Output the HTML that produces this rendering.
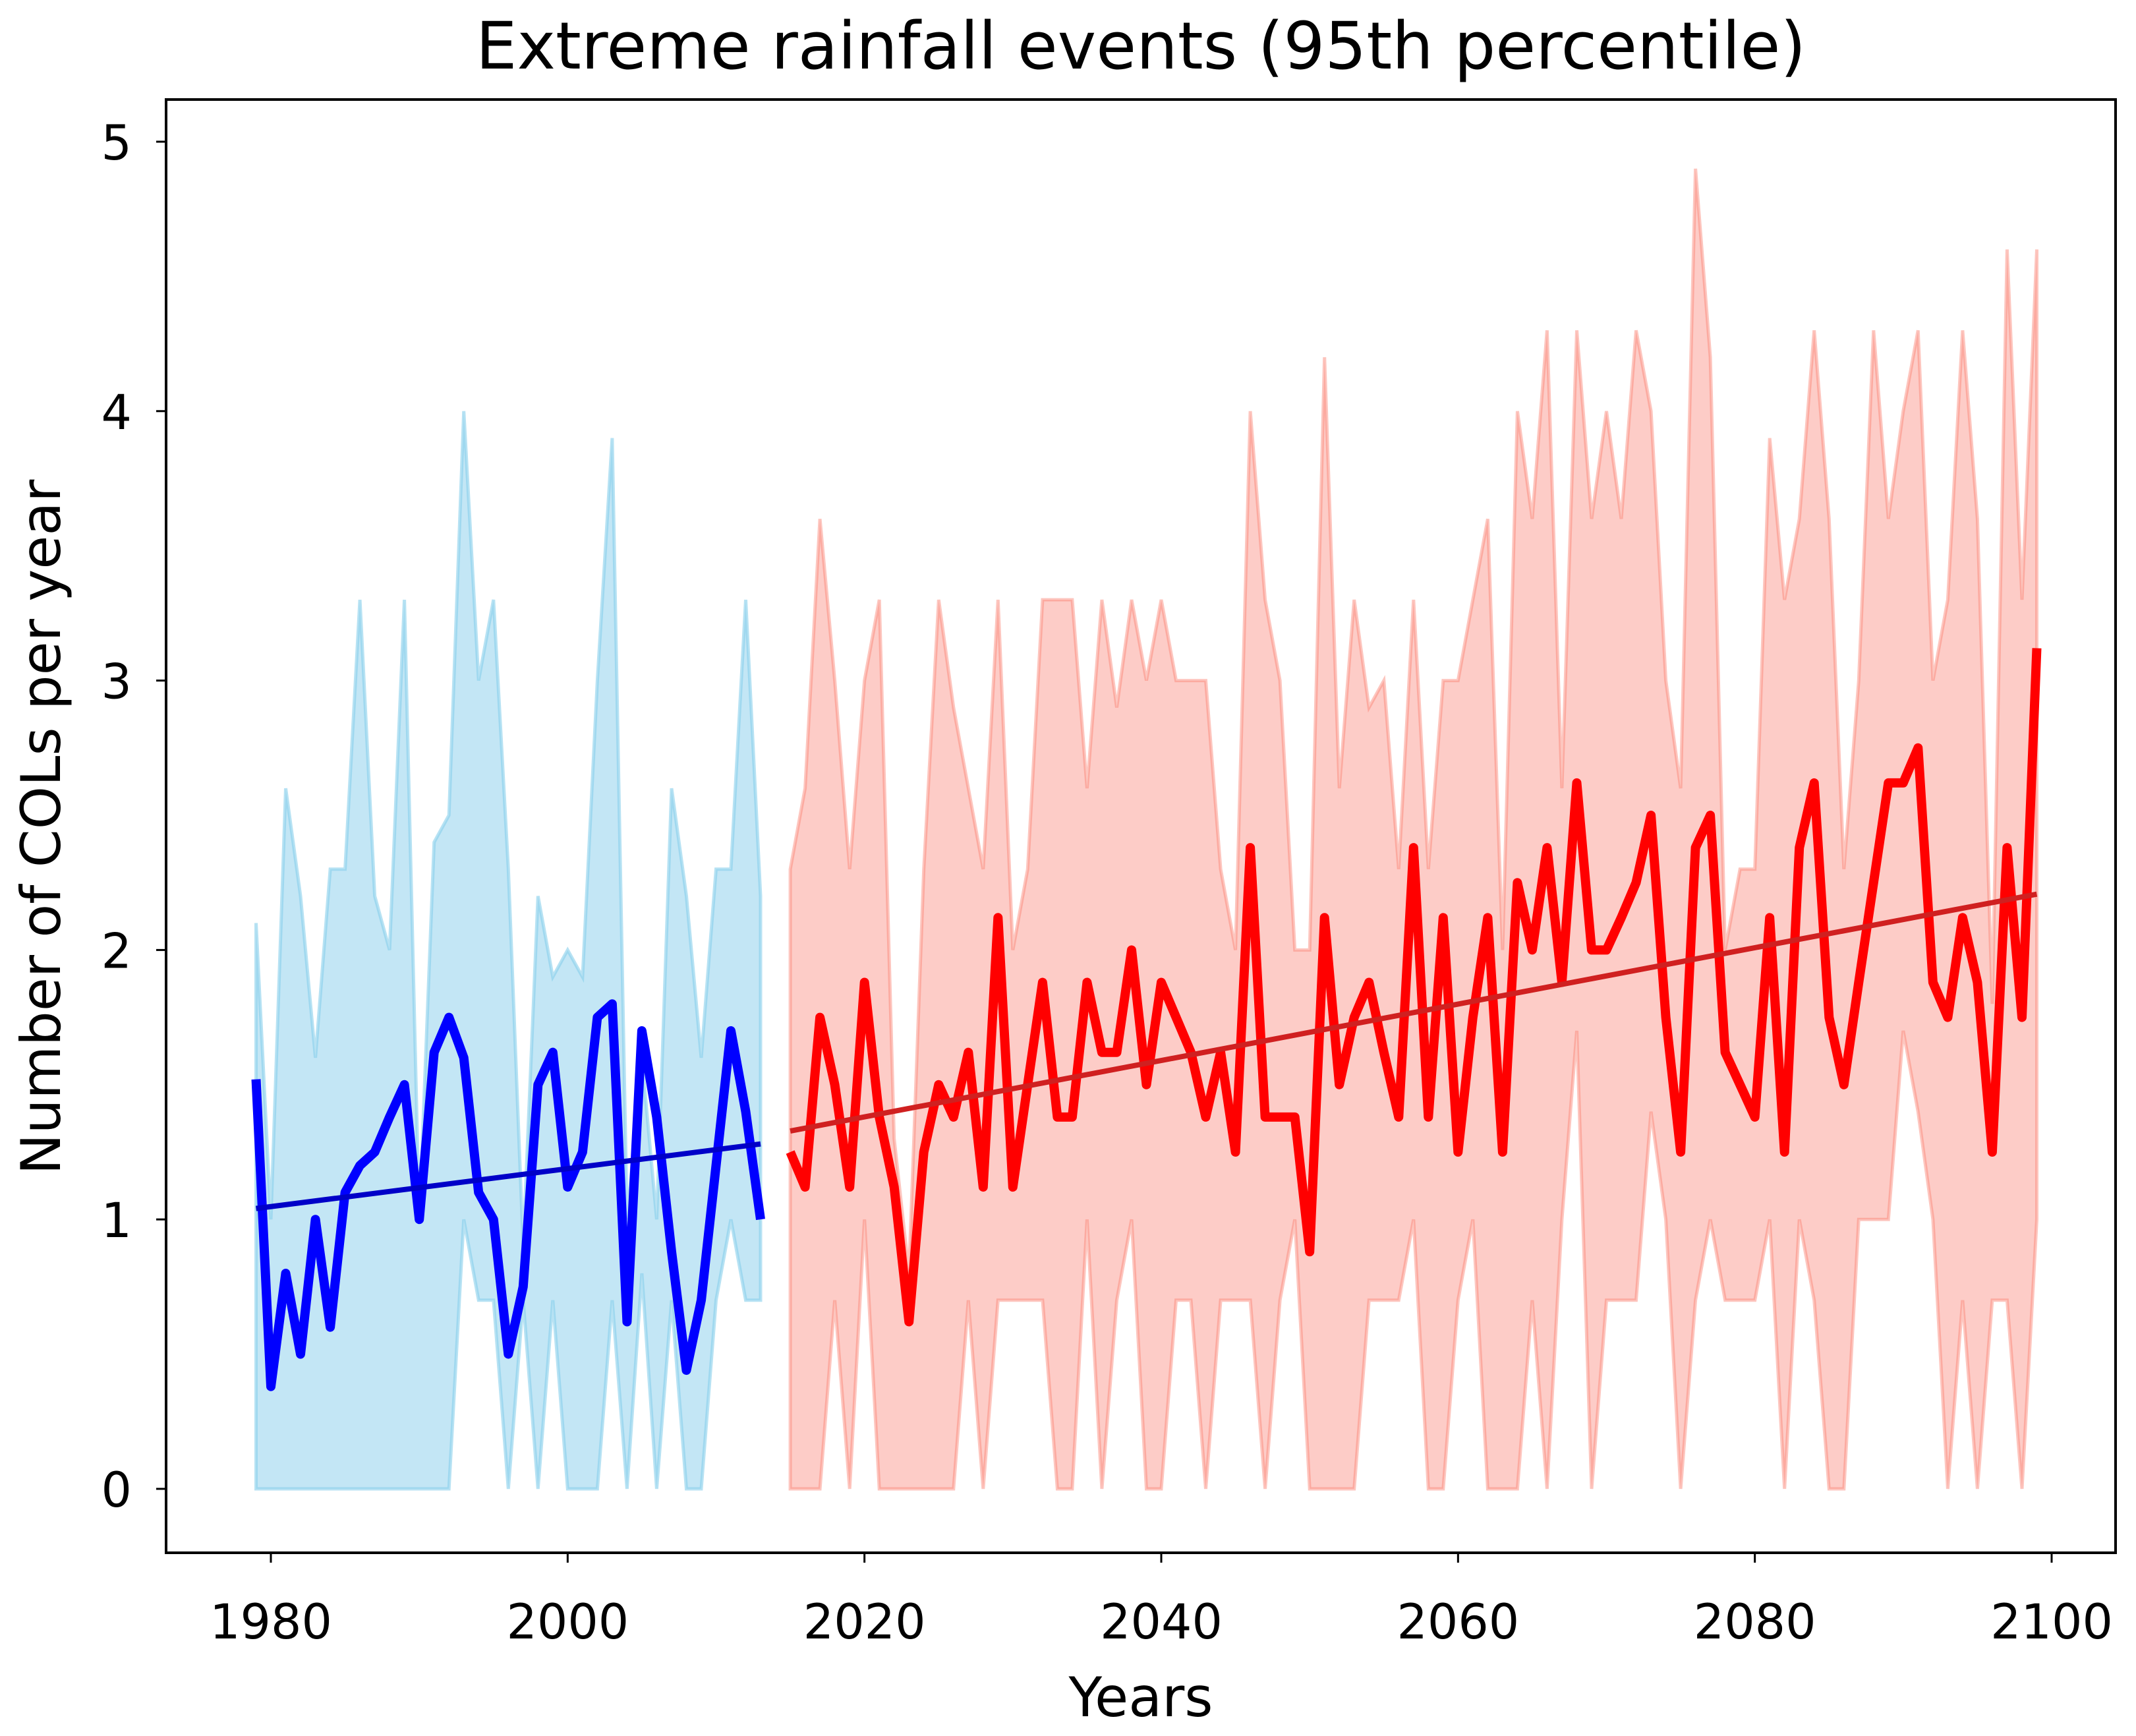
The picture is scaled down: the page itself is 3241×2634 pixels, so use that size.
<!DOCTYPE html>
<html><head><meta charset="utf-8">
<style>
html,body{margin:0;padding:0;background:#fff;}
svg{display:block;font-family:"DejaVu Sans","Liberation Sans",sans-serif;}
</style></head>
<body>
<svg id="chart" width="3241" height="2634" viewBox="0 0 3241 2634" xmlns="http://www.w3.org/2000/svg">
<rect x="0" y="0" width="3241" height="2634" fill="#fff"/>
<g id="plot"></g>
<rect x="252" y="151" width="2958" height="2205" fill="none" stroke="#000" stroke-width="4"/>
<g id="axes"></g>
<text x="1731" y="104" text-anchor="middle" font-size="99" fill="#000">Extreme rainfall events (95th percentile)</text>
<text x="1731" y="2604" text-anchor="middle" font-size="83" fill="#000">Years</text>
<text transform="translate(91,1255) rotate(-90)" text-anchor="middle" font-size="83" fill="#000">Number of COLs per year</text>
</svg>
<script>
const histStart = 1979;
const histMean = [1.52,0.38,0.8,0.5,1.0,0.6,1.1,1.2,1.25,1.38,1.5,1.0,1.62,1.75,1.6,1.1,1.0,0.5,0.75,1.5,1.62,1.12,1.25,1.75,1.8,0.62,1.7,1.38,0.88,0.44,0.7,1.2,1.7,1.4,1.0];
const histUpper = [2.1,1.0,2.6,2.2,1.6,2.3,2.3,3.3,2.2,2.0,3.3,1.0,2.4,2.5,4.0,3.0,3.3,2.3,0.9,2.2,1.9,2.0,1.9,3.0,3.9,1.0,1.6,1.0,2.6,2.2,1.6,2.3,2.3,3.3,2.2];
const histLower = [0,0,0,0,0,0,0,0,0,0,0,0,0,0,1.0,0.7,0.7,0,0.7,0,0.7,0,0,0,0.7,0,0.8,0,0.7,0,0,0.7,1.0,0.7,0.7];
const projStart = 2015;
const projMean = [1.25,1.12,1.75,1.5,1.12,1.88,1.38,1.12,0.62,1.25,1.5,1.38,1.62,1.12,2.12,1.12,1.5,1.88,1.38,1.38,1.88,1.62,1.62,2.0,1.5,1.88,1.75,1.62,1.38,1.62,1.25,2.38,1.38,1.38,1.38,0.88,2.12,1.5,1.75,1.88,1.62,1.38,2.38,1.38,2.12,1.25,1.75,2.12,1.25,2.25,2.0,2.38,1.88,2.62,2.0,2.0,2.12,2.25,2.5,1.75,1.25,2.38,2.5,1.62,1.5,1.38,2.12,1.25,2.38,2.62,1.75,1.5,1.88,2.25,2.62,2.62,2.75,1.88,1.75,2.12,1.88,1.25,2.38,1.75,3.12];
const projUpper = [2.3,2.6,3.6,3.0,2.3,3.0,3.3,1.3,0.8,2.3,3.3,2.9,2.6,2.3,3.3,2.0,2.3,3.3,3.3,3.3,2.6,3.3,2.9,3.3,3.0,3.3,3.0,3.0,3.0,2.3,2.0,4.0,3.3,3.0,2.0,2.0,4.2,2.6,3.3,2.9,3.0,2.3,3.3,2.3,3.0,3.0,3.3,3.6,2.0,4.0,3.6,4.3,2.6,4.3,3.6,4.0,3.6,4.3,4.0,3.0,2.6,4.9,4.2,2.0,2.3,2.3,3.9,3.3,3.6,4.3,3.6,2.3,3.0,4.3,3.6,4.0,4.3,3.0,3.3,4.3,3.6,1.8,4.6,3.3,4.6];
const projLower = [0,0,0,0.7,0,1.0,0,0,0,0,0,0,0.7,0,0.7,0.7,0.7,0.7,0,0,1.0,0,0.7,1.0,0,0,0.7,0.7,0,0.7,0.7,0.7,0,0.7,1.0,0,0,0,0,0.7,0.7,0.7,1.0,0,0,0.7,1.0,0,0,0,0.7,0,1.0,1.7,0,0.7,0.7,0.7,1.4,1.0,0,0.7,1.0,0.7,0.7,0.7,1.0,0,1.0,0.7,0,0,1.0,1.0,1.0,1.7,1.4,1.0,0,0.7,0,0.7,0.7,0,1.0];
const xTicks = [1980,2000,2020,2040,2060,2080,2100];
const yTicks = [0,1,2,3,4,5];

const NS = "http://www.w3.org/2000/svg";
function xs(yr){ return 411 + (yr-1980)*(3113-411)/120; }
function ys(v){ return 2259 - v*(2259-215)/5; }
const plot = document.getElementById('plot');
const axes = document.getElementById('axes');
function mk(tag, attrs, parent){ const e=document.createElementNS(NS,tag); for(const k in attrs) e.setAttribute(k,attrs[k]); parent.appendChild(e); return e; }

function band(start, up, lo, fill, stroke, name){
  let d='';
  up.forEach((v,i)=>{ d += (i?'L':'M')+xs(start+i).toFixed(1)+','+ys(v).toFixed(1); });
  for(let i=lo.length-1;i>=0;i--){ d += 'L'+xs(start+i).toFixed(1)+','+ys(lo[i]).toFixed(1); }
  d+='Z';
  const p = mk('path',{d:d,fill:fill,stroke:stroke,'stroke-width':5,'stroke-linejoin':'miter'},plot);
  
  
}
function line(start, vals, color, w, name){
  const pts = vals.map((v,i)=>xs(start+i).toFixed(1)+','+ys(v).toFixed(1)).join(' ');
  const p = mk('polyline',{points:pts,fill:'none',stroke:color,'stroke-width':w,'stroke-linejoin':'round'},plot);
  
  
}
function trend(start, vals, color, w, name){
  const n=vals.length; let sx=0,sy=0,sxx=0,sxy=0;
  vals.forEach((v,i)=>{ sx+=i; sy+=v; sxx+=i*i; sxy+=i*v; });
  const b=(n*sxy-sx*sy)/(n*sxx-sx*sx), a=(sy-b*sx)/n;
  const p = mk('line',{x1:xs(start),y1:ys(a),x2:xs(start+n-1),y2:ys(a+b*(n-1)),stroke:color,'stroke-width':w},plot);
  
  
}
band(histStart, histUpper, histLower, 'rgba(135,206,235,0.5)', 'rgba(135,206,235,0.6)', 'historical-range-band');
band(projStart, projUpper, projLower, 'rgba(250,128,114,0.4)', 'rgba(250,128,114,0.45)', 'projection-range-band');
line(histStart, histMean, '#0000ff', 14, 'historical-mean-line');
line(projStart, projMean, '#ff0000', 14, 'projection-mean-line');
trend(histStart, histMean, '#0000c8', 8, 'historical-trend-line');
trend(projStart, projMean, '#d02020', 8, 'projection-trend-line');

xTicks.forEach(t=>{
  const x=xs(t);
  const l=mk('line',{x1:x,y1:2356,x2:x,y2:2371,stroke:'#000','stroke-width':3},axes);
  
  
  const tx=mk('text',{x:x,y:2486,'text-anchor':'middle','font-size':73,fill:'#000'},axes);
  tx.textContent=t;
  
  
});
yTicks.forEach(t=>{
  const y=ys(t);
  const l=mk('line',{x1:237,y1:y,x2:252,y2:y,stroke:'#000','stroke-width':3},axes);
  
  
  const tx=mk('text',{x:200,y:y+27,'text-anchor':'end','font-size':73,fill:'#000'},axes);
  tx.textContent=t;
  
  
});
</script>
</body></html>
